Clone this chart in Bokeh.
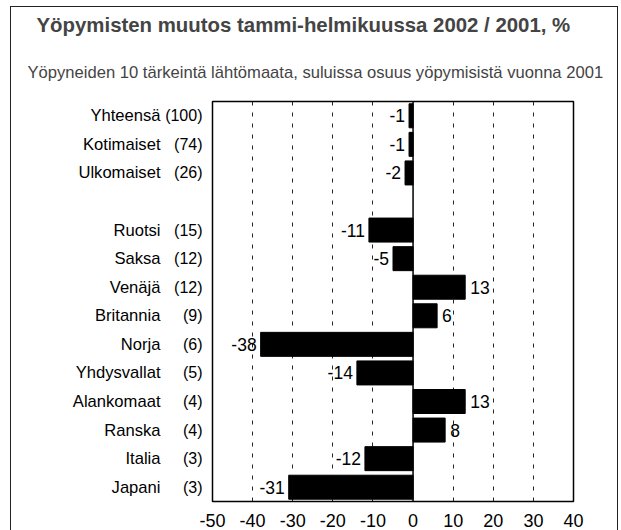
from bokeh.plotting import figure
from bokeh.models import (ColumnDataSource, Range1d, LinearAxis, FixedTicker, Span, Title)
from bokeh.core.properties import value
from bokeh.embed import file_html
from bokeh.resources import INLINE

# ---- data ----
names = ["Yhteensä", "Kotimaiset", "Ulkomaiset",
         "Ruotsi", "Saksa", "Venäjä", "Britannia", "Norja",
         "Yhdysvallat", "Alankomaat", "Ranska", "Italia", "Japani"]
shares = [100, 74, 26, 15, 12, 12, 9, 6, 5, 4, 4, 3, 3]
changes = [-1, -1, -2, -11, -5, 13, 6, -38, -14, 13, 8, -12, -31]
x_ticks = [-50, -40, -30, -20, -10, 0, 10, 20, 30, 40]

title_text = "Yöpymisten muutos tammi-helmikuussa 2002 / 2001, %"
subtitle_text = "Yöpyneiden 10 tärkeintä lähtömaata, suluissa osuus  yöpymisistä vuonna 2001"

# row positions: three summary rows, a blank gap row, then the ten countries
rows = [i if i < 3 else i + 1 for i in range(len(names))]
n_rows = rows[-1] + 1

FONT = "Liberation Sans"

p = figure(width=608, height=524, output_backend="svg", toolbar_location=None,
           x_range=Range1d(x_ticks[0], x_ticks[-1]),
           y_range=Range1d(n_rows - 0.5, -0.5),
           x_axis_location=None, y_axis_location=None,
           min_border_left=201, min_border_right=46,
           min_border_top=91, min_border_bottom=30)
# outer box of the whole chart (open at the bottom, as in the scan)
p.styles = {"border-top": "1.5px solid #222", "border-left": "1.5px solid #222",
            "border-right": "1.5px solid #222",
            "margin-left": "10px", "margin-top": "6px"}
p.outline_line_color = "black"
p.outline_line_width = 1.5
p.background_fill_color = "white"
p.border_fill_color = "white"

# titles (subtitle first so it sits closest to the frame)
sub = Title(text=subtitle_text, align="left", offset=-185, text_font=FONT,
            text_font_size="16.6px", text_font_style="normal", standoff=40)
p.add_layout(sub, "above")
main = Title(text=title_text, align="left", offset=-176, text_font=FONT,
             text_font_size="20.4px", text_font_style="bold", standoff=9)
p.add_layout(main, "above")

# grid
p.ygrid.grid_line_color = None
p.xgrid.ticker = FixedTicker(ticks=[t for t in x_ticks[1:-1] if t != 0])
p.xgrid.grid_line_color = "black"
p.xgrid.grid_line_dash = "4 7"
p.xgrid.grid_line_width = 1
p.xgrid.grid_line_alpha = 0.85

# x axis
xa = LinearAxis(ticker=FixedTicker(ticks=x_ticks),
                major_label_overrides={t: str(t) for t in x_ticks})
xa.axis_line_color = None
xa.major_tick_line_color = None
xa.minor_tick_line_color = None
xa.major_label_text_font = FONT
xa.major_label_text_font_size = "18px"
xa.major_label_text_color = "black"
xa.major_label_standoff = 6
p.add_layout(xa, "below")

# y axes: shares (inner) and names (outer)
share_axis = LinearAxis(ticker=FixedTicker(ticks=rows),
                        major_label_overrides={r: f"({s})" for r, s in zip(rows, shares)})
name_axis = LinearAxis(ticker=FixedTicker(ticks=rows),
                       major_label_overrides={r: n for r, n in zip(rows, names)})
for ax, standoff, size in ((share_axis, 10, "16px"), (name_axis, 2, "16.6px")):
    ax.axis_line_color = None
    ax.major_tick_line_color = None
    ax.minor_tick_line_color = None
    ax.major_tick_out = 0
    ax.minor_tick_out = 0
    ax.axis_label_standoff = 0
    ax.major_label_text_font = FONT
    ax.major_label_text_font_size = size
    ax.major_label_text_color = "black"
    ax.major_label_standoff = standoff
p.add_layout(share_axis, "left")
p.add_layout(name_axis, "left")

# bars
src = ColumnDataSource(dict(
    y=rows, v=changes,
    label=[str(v) for v in changes],
    align=["right" if v < 0 else "left" for v in changes],
    off=[-4 if v < 0 else 5 for v in changes],
))
p.hbar(y="y", left=0, right="v", height=0.84, source=src,
       fill_color="black", line_color="black")

# zero line
p.add_layout(Span(location=0, dimension="height", line_color="black", line_width=1.5))

# value labels
p.text(x="v", y="y", text="label", source=src, text_align="align",
       x_offset="off", text_baseline="middle", text_font=value(FONT),
       text_font_size="17.5px", text_color="black")

open("out.html", "w").write(file_html(p, INLINE))
